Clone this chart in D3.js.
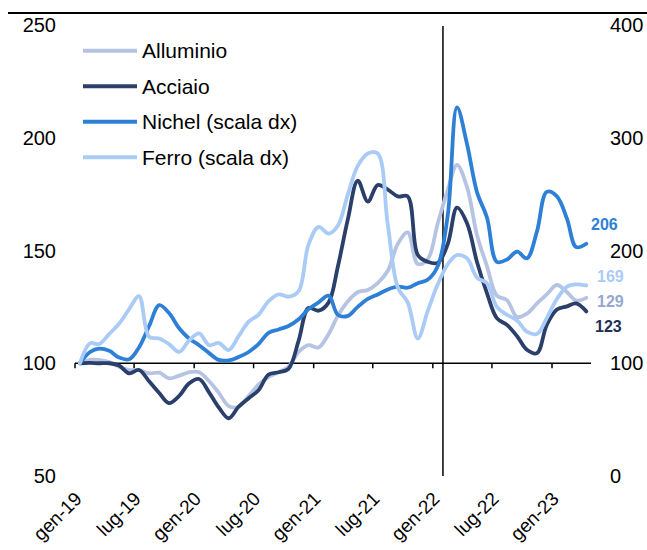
<!DOCTYPE html>
<html><head><meta charset="utf-8">
<script src="https://cdn.jsdelivr.net/npm/d3@7/dist/d3.min.js"></script>
<style>body{margin:0;background:#fff}svg{display:block}text{font-family:"Liberation Sans",Arial,sans-serif}</style>
</head><body><svg id="c" width="647" height="550"></svg>
<script>
// Monthly data, gen-2019 .. apr-2023 (index, 2019-01 = 100)
const startYear = 2019, startMonth = 0, nMonths = 52;
const alluminio = [100,101.5,101.5,100.5,98.5,97,97,95.5,95.8,93.3,94.5,96,96,92,87,81,80.7,85.5,90.5,94,96,98.5,105,108,107,113,121,127.5,131.5,132.5,135.5,141,153,158,144,146,162,177,188,178,157,143,130,128,120.5,122,126.5,130.5,134.7,131.5,127.8,129];
const acciaio = [100,100.2,100,100,99,95.5,97,92,86.8,82.3,85.5,91,93,87,80.5,75.6,80.7,84.5,88,95,96,97.5,110,124.5,123.3,127,142.8,164,181,171.7,179,177,174,174,148,145,144.5,153,169,162,145,131,120,117,112,106,104.5,117,123.8,125.2,126.5,123];
const nichel = [100,110,113,111,105,103.5,114,133,151.5,144.5,131,122,116,109,103,102.5,105.5,110,117,127,130,133,139,148,154,160,143,142,150,157,161,165.5,168,167,171,174,186,232,327,294,252,229,190,192,199,193,217,252,248,228,203,206];
const ferro = [100,117.7,117,126,135,148,159.6,123.5,122,117,110,120,126.5,116,118,111.7,124,137,143,155,161,159,164,205,221,215,222,250,275,286,286,223,167,154,122,146,170,188,196,193,176,171,150,143,138,128,126,140,157,168,170,169];
const seriesNames = ["Alluminio","Acciaio","Nichel (scala dx)","Ferro (scala dx)"];
const seriesColors = ["#b6c3e3","#2b3f6b","#2e80d6","#a9cbf6"];
const endLabels = ["129","123","206","169"];
const endLabelColors = ["#97a7d2","#1f2f55","#2e80d6","#a9cbf6"];
const leftTicks = [50,100,150,200,250];
const rightTicks = [0,100,200,300,400];
const xTickLabels = ["gen-19","lug-19","gen-20","lug-20","gen-21","lug-21","gen-22","lug-22","gen-23"];
const eventDate = new Date(2022,1,1);

const dates = d3.range(nMonths).map(i => new Date(startYear, startMonth + i, 16));
const svg = d3.select("#c");
const x = d3.scaleTime().domain([new Date(2019,0,1), new Date(2023,0,1)]).range([75, 552]);
const yL = d3.scaleLinear().domain([50,250]).range([476,25]);
const yR = d3.scaleLinear().domain([0,400]).range([476,25]);

// top border
svg.append("line").attr("x1",8).attr("x2",647).attr("y1",13).attr("y2",13).attr("stroke","#000").attr("stroke-width",2);

// left axis labels
svg.append("g").selectAll("text").data(leftTicks).join("text")
  .attr("x",56).attr("y",d=>yL(d)).attr("dy","0.36em").attr("text-anchor","end")
  .attr("font-size",20).attr("fill","#000").text(d=>d);
// right axis labels
svg.append("g").selectAll("text").data(rightTicks).join("text")
  .attr("x",610).attr("y",d=>yR(d)).attr("dy","0.36em").attr("text-anchor","start")
  .attr("font-size",20).attr("fill","#000").text(d=>d);

// horizontal axis at 100
const xTickDates = xTickLabels.map((l,i)=>new Date(2019, i*6, 1));
const ax = svg.append("g").attr("transform",`translate(0,${yL(100)})`);
ax.append("line").attr("x1",75).attr("x2",591).attr("stroke","#000").attr("stroke-width",1.5);
ax.selectAll("line.t").data(xTickDates).join("line").attr("class","t")
  .attr("x1",d=>x(d)).attr("x2",d=>x(d)).attr("y1",0).attr("y2",5).attr("stroke","#000").attr("stroke-width",1.5);

// x labels
svg.append("g").selectAll("text").data(xTickDates).join("text")
  .attr("transform",d=>`translate(${x(d)+8},${500}) rotate(-45)`)
  .attr("text-anchor","end").attr("font-size",19).attr("fill","#000")
  .text((d,i)=>xTickLabels[i]);

// vertical event line
svg.append("line").attr("x1",x(eventDate)).attr("x2",x(eventDate)).attr("y1",26).attr("y2",476)
  .attr("stroke","#000").attr("stroke-width",1.5);

const data = [alluminio, acciaio, nichel, ferro];
const scales = [yL, yL, yR, yR];
const line = (ys) => d3.line().x((d,i)=>x(dates[i])).y(d=>ys(d)).curve(d3.curveCatmullRom.alpha(0.5));
data.forEach((vals,si)=>{
  svg.append("path").datum(vals).attr("d", line(scales[si]))
    .attr("fill","none").attr("stroke",seriesColors[si]).attr("stroke-width",3.8)
    .attr("stroke-linejoin","round").attr("stroke-linecap","round");
});

// end labels
const endOffsets = [3,15,-19,-9];
const endX = [597,595,591,597];
data.forEach((vals,si)=>{
  svg.append("text").attr("x",endX[si]).attr("y",scales[si](vals[vals.length-1])+endOffsets[si])
    .attr("dy","0.36em").attr("font-size",16).attr("font-weight","bold")
    .attr("fill",endLabelColors[si]).text(endLabels[si]);
});

// legend
const lg = svg.append("g");
seriesNames.forEach((n,i)=>{
  const yy = 50.7 + i*35.5;
  lg.append("line").attr("x1",83).attr("x2",137).attr("y1",yy).attr("y2",yy)
    .attr("stroke",seriesColors[i]).attr("stroke-width",4);
  lg.append("text").attr("x",142).attr("y",yy).attr("dy","0.36em").attr("font-size",21).attr("fill","#000").text(n);
});
</script></body></html>
